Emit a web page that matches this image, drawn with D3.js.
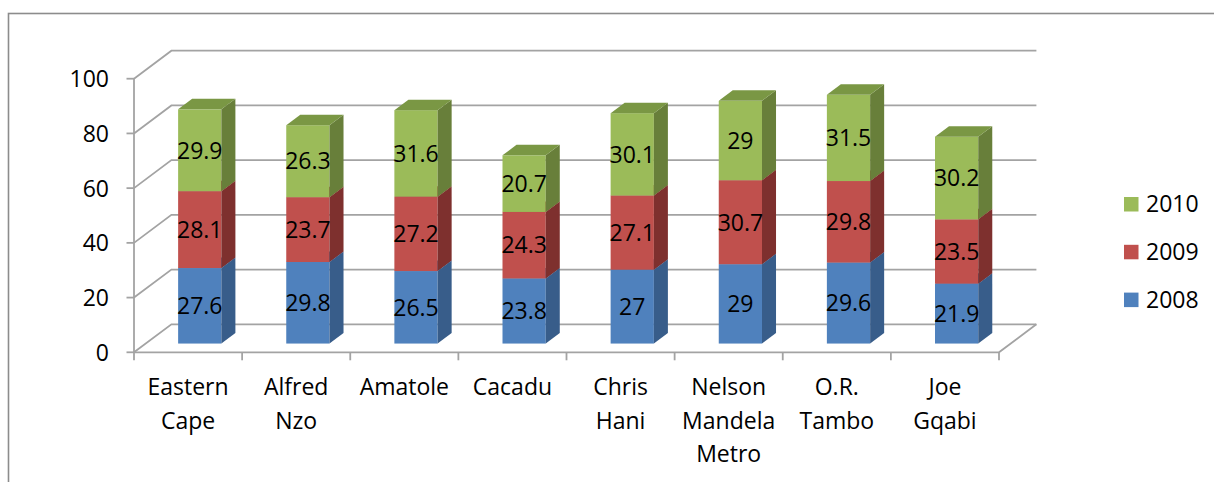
<!DOCTYPE html>
<html>
<head>
<meta charset="utf-8">
<script src="https://cdn.jsdelivr.net/npm/d3@7"></script>
<style>
  html, body { margin: 0; padding: 0; background: #fff; }
  svg { display: block; }
  text { font-family: "Open Sans", "Noto Sans", sans-serif; fill: #000; }
</style>
</head>
<body>
<svg id="chart" width="1214" height="482"></svg>
<script>
// Districts along the category axis (line breaks as shown under each column)
const categories = ["Eastern Cape", "Alfred Nzo", "Amatole", "Cacadu", "Chris Hani",
                    "Nelson Mandela Metro", "O.R. Tambo", "Joe Gqabi"];
const categoryLines = [["Eastern", "Cape"], ["Alfred", "Nzo"], ["Amatole"], ["Cacadu"],
                       ["Chris", "Hani"], ["Nelson", "Mandela", "Metro"], ["O.R.", "Tambo"], ["Joe", "Gqabi"]];
const seriesNames = ["2008", "2009", "2010"];
const values2008 = [27.6, 29.8, 26.5, 23.8, 27, 29, 29.6, 21.9];
const values2009 = [28.1, 23.7, 27.2, 24.3, 27.1, 30.7, 29.8, 23.5];
const values2010 = [29.9, 26.3, 31.6, 20.7, 30.1, 29, 31.5, 30.2];
const yTicks = [0, 20, 40, 60, 80, 100];

const series = [values2008, values2009, values2010];
const colors = [
  { front: "#4F81BD", side: "#385D8A", top: "#4572A7" },
  { front: "#C0504D", side: "#7E302E", top: "#9E3E3B" },
  { front: "#9BBB59", side: "#687F3A", top: "#7A9744" }
];
const fontSize = 23;

const svg = d3.select("#chart");

// Outer frame
svg.append("rect")
  .attr("x", 8.5).attr("y", 13.5)
  .attr("width", 1300).attr("height", 600)
  .attr("fill", "none").attr("stroke", "#8c8c8c").attr("stroke-width", 1.6);

// Plot geometry: front plane and depth projection
const x0 = 134, x1 = 999;
const depthX = 37.4, depthY = 28;
const x = d3.scaleBand().domain(categories).range([x0, x1]).padding(0);
const y = d3.scaleLinear().domain([0, 100]).range([352.3, 78.7]);

const gridColor = "#a3a3a3";
const grid = svg.append("g").attr("stroke", gridColor).attr("stroke-width", 1.8).attr("fill", "none");

// Back wall gridlines and side wall diagonals
yTicks.forEach(t => {
  const yy = y(t);
  grid.append("path").attr("d", d3.line()([[x0, yy], [x0 + depthX, yy - depthY], [x1 + depthX, yy - depthY]]));
  grid.append("line").attr("x1", x0 - 7.5).attr("x2", x0).attr("y1", yy).attr("y2", yy);
});
// Floor outline
grid.append("path").attr("d", d3.line()([[x0, y(0)], [x1, y(0)], [x1 + depthX, y(0) - depthY]]));
// Value axis line
grid.append("line").attr("x1", x0).attr("x2", x0).attr("y1", y(100)).attr("y2", y(0));
// Category tick marks
d3.range(categories.length + 1).forEach(i => {
  const xx = x0 + i * x.step();
  grid.append("line").attr("x1", xx).attr("x2", xx).attr("y1", y(0)).attr("y2", y(0) + 8);
});

// Value axis labels
svg.append("g").selectAll("text").data(yTicks).join("text")
  .attr("x", 109).attr("y", d => y(d) + 8.5)
  .attr("text-anchor", "end").attr("font-size", fontSize)
  .text(d => d);

// Bars: placed in the middle of the depth, occupying a fraction of it
const barFrac = 0.375;
const offFrac = (1 - barFrac) / 2;
const offX = depthX * offFrac, offY = depthY * offFrac;
const bDX = depthX * barFrac, bDY = depthY * barFrac;
const barW = x.bandwidth() * 0.4;
const yBar = v => y(v) - offY;

const bars = svg.append("g");
const labels = svg.append("g");
categories.forEach((c, i) => {
  const left = x(c) + (x.bandwidth() - barW) / 2 + offX;
  const right = left + barW;
  let base = 0;
  series.forEach((vals, s) => {
    const v = vals[i];
    const yb = yBar(base), yt = yBar(base + v);
    const col = colors[s];
    const g = bars.append("g");
    g.append("rect").attr("x", left).attr("y", yt).attr("width", barW).attr("height", yb - yt)
      .attr("fill", col.front);
    g.append("path").attr("fill", col.side)
      .attr("d", d3.line()([[right, yb], [right, yt], [right + bDX, yt - bDY], [right + bDX, yb - bDY]]) + "Z");
    g.append("path").attr("fill", col.top)
      .attr("d", d3.line()([[left, yt], [right, yt], [right + bDX, yt - bDY], [left + bDX, yt - bDY]]) + "Z");
    labels.append("text")
      .attr("x", (left + right) / 2).attr("y", (yb + yt) / 2 + 8.3)
      .attr("text-anchor", "middle").attr("font-size", fontSize)
      .text(v);
    base += v;
  });
});

// Category labels
const catG = svg.append("g");
categories.forEach((c, i) => {
  const t = catG.append("text").attr("text-anchor", "middle").attr("font-size", fontSize);
  categoryLines[i].forEach((line, k) => {
    t.append("tspan").attr("x", x(c) + x.bandwidth() / 2).attr("y", 395 + k * 33.5).text(line);
  });
});

// Legend (latest series on top)
const legend = svg.append("g");
[2, 1, 0].forEach((s, k) => {
  const ly = 197 + k * 47.8;
  legend.append("rect").attr("x", 1124).attr("y", ly).attr("width", 14.5).attr("height", 14.5)
    .attr("fill", colors[s].front);
  legend.append("text").attr("x", 1146).attr("y", ly + 15).attr("font-size", fontSize).text(seriesNames[s]);
});
</script>
</body>
</html>
